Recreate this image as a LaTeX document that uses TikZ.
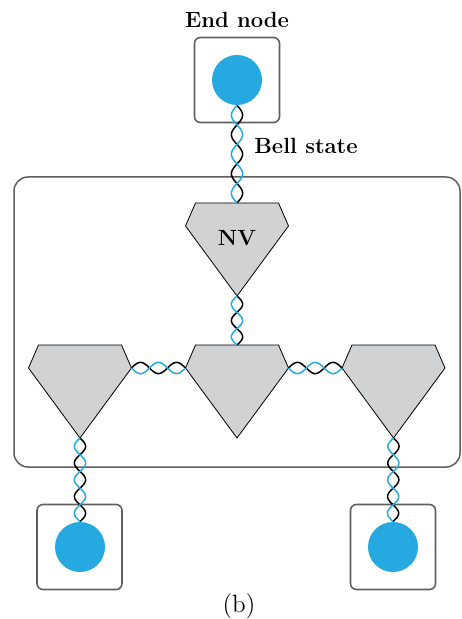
\documentclass[tikz,border=0pt]{standalone}
\usepackage{xcolor}
\usepackage{tikz}
\usetikzlibrary{calc, positioning}

\definecolor{bellblue}{RGB}{38,169,224}
\definecolor{nvgray}{RGB}{209,210,212}
\definecolor{framegray}{RGB}{95,95,95}

% twisted pair from #1 to #2, #3 half twists
\newcommand{\bellpair}[3]{%
	\foreach \s/\col in {1/black, -1/bellblue}
	\draw[strand, \col] let \p1=(#1), \p2=(#2), \n1={atan2(\y2-\y1,\x2-\x1)} in
	plot[domain=0:1, samples=60, variable=\q]
	({\x1+\q*(\x2-\x1)-(\s)*2.8pt*sin(\q*#3*180)*sin(\n1)},
	{\y1+\q*(\y2-\y1)+(\s)*2.8pt*sin(\q*#3*180)*cos(\n1)});
}

\begin{document}
\begin{tikzpicture}[x=0.5pt, y=-0.5pt, every node/.style={font=\fontsize{11}{13}\selectfont}]
			\tikzstyle{endnode}=[draw=framegray, line width=0.8pt, rounded corners=3pt, minimum size=42.5pt, fill=none]
			\tikzstyle{qubit}=[circle, fill=bellblue, minimum size=25pt, inner sep=0pt]
			\tikzstyle{strand}=[line width=0.75pt]
			\tikzstyle{nvgem}=[draw=black, line width=0.4pt, fill=nvgray]
			\tikzstyle{frame}=[draw=framegray, line width=0.75pt, rounded corners=7pt]
			\tikzset{
				nv/.pic={
					\draw[nvgem] (-41.5,0) -- (41.5,0) -- (51.5,23) -- (0,93) -- (-51.5,23) -- cycle;
					\coordinate (-top) at (0,0);
					\coordinate (-tip) at (0,93);
					\coordinate (-left) at (-51.5,23);
					\coordinate (-right) at (51.5,23);
					\node at (0,35) {\bfseries #1};
				}
			}
			
			\useasboundingbox (0,0) rectangle (461,619);
			
			\draw[frame] (14,177) rectangle (460,467);
			
			\node (e0) at (237,80) [endnode] {};
			\node (e1) at (79.5,547) [endnode] {};
			\node (e2) at (393,547) [endnode] {};
			
			\node (q0) at (237,80) [qubit] {};
			\node (q1) at (80,547) [qubit] {};
			\node (q2) at (393,547) [qubit] {};
			
			\pic (nv0) at (237,203) {nv=NV};
			\pic (nv1) at (80,345) {nv={}};
			\pic (nv2) at (237,345) {nv={}};
			\pic (nv3) at (393.5,345) {nv={}};
			
			\bellpair{q0.south}{nv0-top}{5}
			\bellpair{nv0-tip}{nv2-top}{3}
			\bellpair{nv1-right}{nv2-left}{3}
			\bellpair{nv2-right}{nv3-left}{3}
			\bellpair{nv1-tip}{q1.north}{5}
			\bellpair{nv3-tip}{q2.north}{5}
			
			\node (endlabel) at (237,20) {\bfseries End node};
			\node (bell) at (306,146) {\bfseries Bell state};
			\node (cap) at (239,606) [font=\fontsize{12.5}{15}\selectfont] {(b)};
			
\end{tikzpicture}
\end{document}
